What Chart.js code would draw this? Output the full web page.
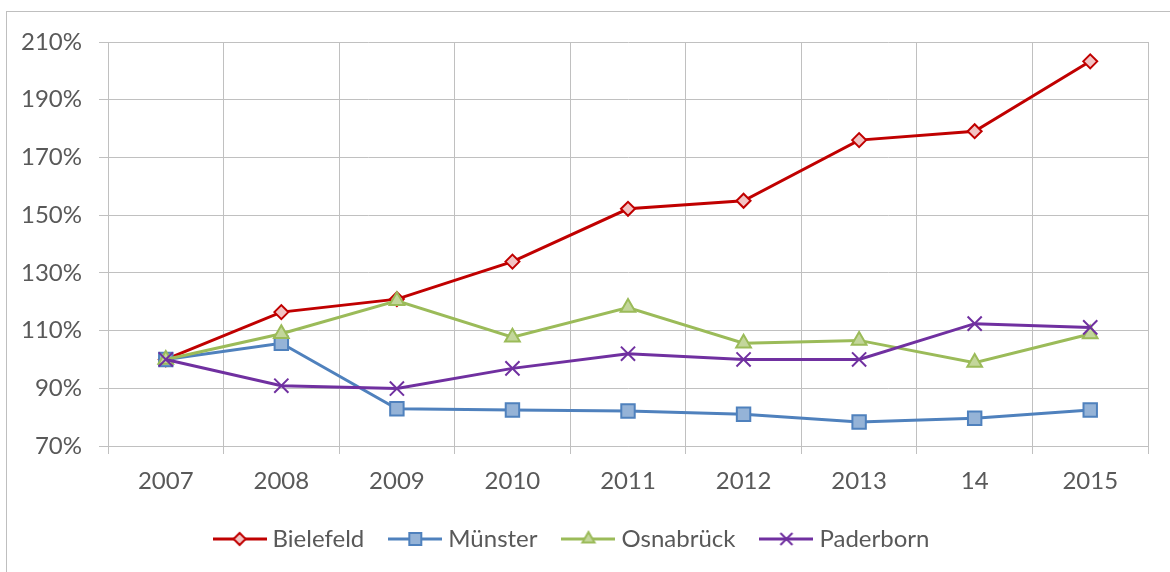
<!DOCTYPE html>
<html>
<head>
<meta charset="utf-8">
<script src="https://cdn.jsdelivr.net/npm/chart.js@4/dist/chart.umd.min.js"></script>
<style>
    html, body { margin: 0; padding: 0; background: #fff; }
    #wrap { position: relative; width: 1170px; height: 572px; }
    #frame {
        position: absolute; left: 6px; top: 11px; right: -10px; bottom: -10px;
        border-left: 1px solid #BFBFBF; border-top: 1px solid #BFBFBF;
    }
    canvas { position: absolute; left: 0; top: 0; }
</style>
</head>
<body>
<div id="wrap">
    <div id="frame"></div>
    <canvas id="chart" width="1170" height="572"></canvas>
</div>
<script>
// ------------------------------
// Data
// ------------------------------
const years = ["2007", "2008", "2009", "2010", "2011", "2012", "2013", "14", "2015"];
const bielefeld = [100, 116.4, 120.9, 133.9, 152.2, 155.0, 176.0, 179.1, 203.3];
const muenster = [100, 105.6, 82.9, 82.5, 82.1, 81.0, 78.3, 79.6, 82.5];
const osnabrueck = [100, 108.9, 120.3, 107.7, 118.0, 105.6, 106.6, 98.9, 108.8];
const paderborn = [100, 90.9, 89.9, 96.9, 102.0, 100.0, 100.0, 112.4, 111.1];
const yTicks = [70, 90, 110, 130, 150, 170, 190, 210];

const FONT = "Lato";
const FSIZE = 24;
const TEXT = "#595959";
const GRID = "#C0C0C0";

const series = [
    { label: "Bielefeld", data: bielefeld, line: "#C00000", fill: "#F2C4C4", style: "rectRot", r: 7 },
    { label: "Münster", data: muenster, line: "#4F81BD", fill: "#95B3D7", style: "rect", r: 9.5 },
    { label: "Osnabrück", data: osnabrueck, line: "#9BBB59", fill: "#C3D69B", style: "triangle", r: 8.5 },
    { label: "Paderborn", data: paderborn, line: "#7030A0", fill: "#7030A0", style: "crossRot", r: 10 }
];

// ------------------------------
// Legend swatch: line with marker in the middle
// ------------------------------
function makeSwatch(s) {
    const c = document.createElement("canvas");
    c.width = 54;
    c.height = 22;
    const g = c.getContext("2d");
    const cx = 27, cy = 11;

    g.strokeStyle = s.line;
    g.lineWidth = 3;
    g.beginPath();
    g.moveTo(0, cy);
    g.lineTo(54, cy);
    g.stroke();

    g.lineWidth = 2;
    g.fillStyle = s.fill;
    g.beginPath();
    if (s.style === "rectRot") {
        const r = 6;
        g.moveTo(cx - r, cy); g.lineTo(cx, cy - r); g.lineTo(cx + r, cy); g.lineTo(cx, cy + r);
        g.closePath(); g.fill(); g.stroke();
    } else if (s.style === "rect") {
        const h = 6;
        g.rect(cx - h, cy - h, 2 * h, 2 * h); g.fill(); g.stroke();
    } else if (s.style === "triangle") {
        const r = 7;
        g.moveTo(cx, cy - r);
        g.lineTo(cx + r * 0.866, cy + r * 0.5);
        g.lineTo(cx - r * 0.866, cy + r * 0.5);
        g.closePath(); g.fill(); g.stroke();
    } else {
        const d = 6;
        g.moveTo(cx - d, cy - d); g.lineTo(cx + d, cy + d);
        g.moveTo(cx + d, cy - d); g.lineTo(cx - d, cy + d);
        g.stroke();
    }
    return c;
}

// ------------------------------
// Chart
// ------------------------------
const ctx = document.getElementById("chart").getContext("2d");

new Chart(ctx, {
    type: "line",
    data: {
        labels: years,
        datasets: series.map((s, i) => ({
            label: s.label,
            data: s.data,
            borderColor: s.line,
            borderWidth: 3,
            tension: 0,
            pointStyle: s.style,
            pointRadius: s.r,
            pointHoverRadius: s.r,
            pointBackgroundColor: s.fill,
            pointBorderColor: s.line,
            pointBorderWidth: 2,
            order: series.length - i,
            swatch: makeSwatch(s)
        }))
    },
    options: {
        responsive: false,
        animation: false,
        devicePixelRatio: 1,
        layout: { padding: { left: 0, right: 22, top: 42, bottom: 11 } },
        plugins: {
            tooltip: { enabled: false },
            legend: {
                position: "bottom",
                labels: {
                    usePointStyle: true,
                    pointStyleWidth: 42,
                    padding: 30,
                    color: TEXT,
                    font: { family: FONT, size: FSIZE },
                    generateLabels: chart => chart.data.datasets.map((ds, i) => ({
                        text: ds.label,
                        pointStyle: ds.swatch,
                        fillStyle: ds.borderColor,
                        strokeStyle: ds.borderColor,
                        lineWidth: 0,
                        fontColor: TEXT,
                        hidden: false,
                        datasetIndex: i
                    }))
                }
            }
        },
        scales: {
            x: {
                offset: true,
                grid: { offset: true, color: GRID, lineWidth: 1, tickLength: 8, drawTicks: true },
                border: { color: GRID, width: 1 },
                ticks: { color: TEXT, font: { family: FONT, size: FSIZE }, padding: 13, maxRotation: 0 },
                afterFit: scale => { scale.height = 51; }
            },
            y: {
                min: 70,
                max: 210,
                afterBuildTicks: scale => { scale.ticks = yTicks.map(v => ({ value: v })); },
                grid: { color: GRID, lineWidth: 1, tickLength: 9 },
                border: { color: GRID, width: 1 },
                ticks: {
                    color: TEXT,
                    font: { family: FONT, size: FSIZE },
                    padding: 17,
                    callback: v => v + "%"
                },
                afterFit: scale => { scale.width = 108; }
            }
        }
    }
});
</script>
</body>
</html>
